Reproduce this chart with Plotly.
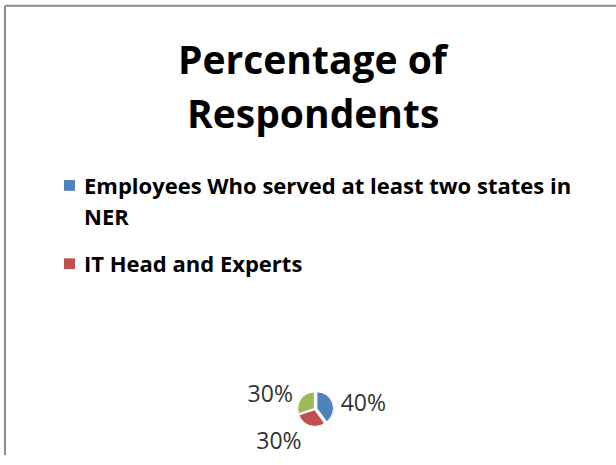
import plotly.graph_objects as go

title_lines = ["Percentage of", "Respondents"]
labels = ["Employees Who served at least two states in NER", "IT Head and Experts", "Others"]
values = [40, 30, 30]
colors = ["#4F81BD", "#C0504D", "#9BBB59"]
legend_lines = [["Employees Who served at least two states in", "NER"], ["IT Head and Experts"]]

W, H = 616, 465
fig = go.Figure()
cx, cy, r = 315, 418, 19
fig.add_trace(go.Pie(
    labels=labels, values=values, sort=False, direction="clockwise", rotation=0,
    marker=dict(colors=colors, line=dict(color="white", width=1)),
    pull=[0.12, 0.05, 0.05],
    textinfo="percent", textposition="outside",
    textfont=dict(family="Open Sans, sans-serif", size=23, color="#333333"),
    domain=dict(x=[(cx - r) / W, (cx + r) / W], y=[(H - cy - r) / H, (H - cy + r) / H]),
    showlegend=False, hoverinfo="label+percent",
))

ann = []
for i, t in enumerate(title_lines):
    ann.append(dict(text=f"<b>{t}</b>", x=313 / W, y=1 - (60 + 55 * i) / H, xref="paper", yref="paper",
                    showarrow=False, xanchor="center", yanchor="middle",
                    font=dict(family="Open Sans, sans-serif", size=39, color="black")))

shapes = []
ys = [[189, 221], [269]]
for k, lines in enumerate(legend_lines):
    shapes.append(dict(type="rect", xref="paper", yref="paper",
                       x0=64 / W, x1=75 / W, y0=1 - (ys[k][0] + 6) / H, y1=1 - (ys[k][0] - 5) / H,
                       fillcolor=colors[k], line=dict(width=0)))
    for j, line in enumerate(lines):
        ann.append(dict(text=f"<b>{line}</b>", x=82 / W, y=1 - ys[k][j] / H, xref="paper", yref="paper",
                        showarrow=False, xanchor="left", yanchor="middle",
                        font=dict(family="Open Sans, sans-serif", size=22, color="black")))

shapes.append(dict(type="line", xref="paper", yref="paper", x0=5 / W, x1=1, y0=1 - 6 / H, y1=1 - 6 / H,
                   line=dict(color="#8c8c8c", width=2)))
shapes.append(dict(type="line", xref="paper", yref="paper", x0=5 / W, x1=5 / W, y0=0, y1=1 - 6 / H,
                   line=dict(color="#8c8c8c", width=2)))

fig.update_layout(width=W, height=H, margin=dict(l=0, r=0, t=0, b=0),
                  paper_bgcolor="white", plot_bgcolor="white",
                  annotations=ann, shapes=shapes)
fig.write_html("out.html")
